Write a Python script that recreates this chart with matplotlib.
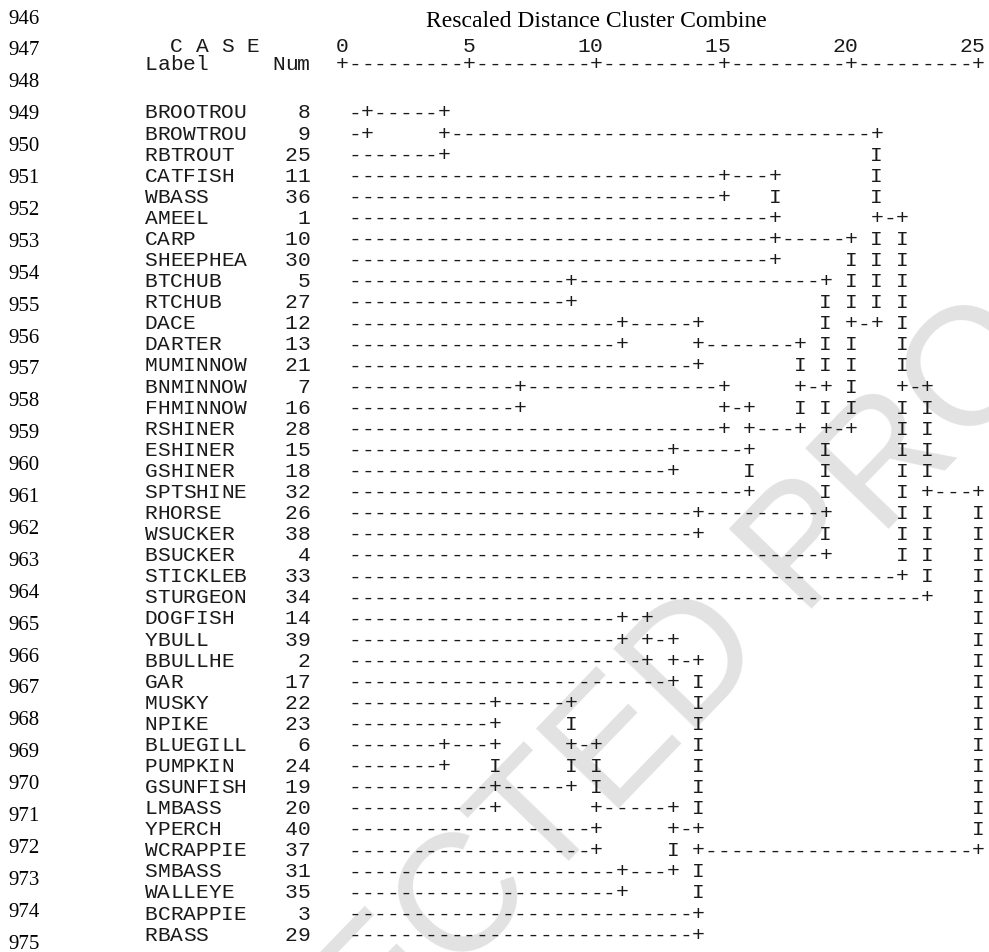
import matplotlib
matplotlib.use("Agg")
from matplotlib import pyplot as plt

# cases in dendrogram order
labels = ["BROOTROU", "BROWTROU", "RBTROUT", "CATFISH", "WBASS", "AMEEL", "CARP",
          "SHEEPHEA", "BTCHUB", "RTCHUB", "DACE", "DARTER", "MUMINNOW", "BNMINNOW",
          "FHMINNOW", "RSHINER", "ESHINER", "GSHINER", "SPTSHINE", "RHORSE", "WSUCKER",
          "BSUCKER", "STICKLEB", "STURGEON", "DOGFISH", "YBULL", "BBULLHE", "GAR",
          "MUSKY", "NPIKE", "BLUEGILL", "PUMPKIN", "GSUNFISH", "LMBASS", "YPERCH",
          "WCRAPPIE", "SMBASS", "WALLEYE", "BCRAPPIE", "RBASS"]
nums = [8, 9, 25, 11, 36, 1, 10, 30, 5, 27, 12, 13, 21, 7, 16, 28, 15, 18, 32, 26,
        38, 4, 33, 34, 14, 39, 2, 17, 22, 23, 6, 24, 19, 20, 40, 37, 31, 35, 3, 29]

# dendrogram in character columns (2 columns = 1 unit of rescaled distance)
leaf_end = [2, 2, 8, 30, 30, 34, 34, 34, 18, 18, 22, 22, 28, 14, 14, 30, 26, 26, 32, 28,
            28, 38, 44, 46, 22, 22, 24, 26, 12, 12, 8, 8, 12, 12, 20, 20, 22, 22, 28, 28]
joins = [[(2, 8)], [(8, 42)], [], [(30, 34)], [], [(42, 44)], [(34, 40)], [],
         [(18, 38)], [], [(22, 28), (40, 42)], [(28, 36)], [],
         [(14, 30), (36, 38), (44, 46)], [(30, 32)], [(32, 36), (38, 40)], [(26, 32)], [],
         [(46, 50)], [(28, 38)], [], [], [], [], [(22, 24)], [(24, 26)], [(26, 28)], [],
         [(12, 18)], [], [(8, 12), (18, 20)], [], [(12, 18)], [(20, 26)], [(26, 28)],
         [(28, 50)], [(22, 26)], [], [], []]
bars = [[], [], [42], [42], [34, 42], [], [42, 44], [40, 42, 44], [40, 42, 44],
        [38, 40, 42, 44], [38, 44], [38, 40, 44], [36, 38, 40, 44], [40],
        [36, 38, 40, 44, 46], [44, 46], [38, 44, 46], [32, 38, 44, 46], [38, 44],
        [44, 46, 50], [38, 44, 46, 50], [44, 46, 50], [46, 50], [50], [50], [50], [50],
        [28, 50], [28, 50], [18, 28, 50], [28, 50], [12, 18, 20, 28, 50], [20, 28, 50],
        [28, 50], [50], [26], [28], [28], [], []]

scale_values = [0, 5, 10, 15, 20, 25]
line_numbers = list(range(946, 976))

title = "Rescaled Distance Cluster Combine"
mono = "Liberation Mono"
serif = "Liberation Serif"
ink = "#1a1a1a"
fs = 15.3

fig = plt.figure(figsize=(9.89, 9.52), dpi=100)
ax = fig.add_axes([0, 0, 1, 1])
pitch, x0 = 12.73, 342.0
row_h, y0 = 21.08, 113.0
ax.set_xlim(-x0 / pitch, (989 - x0) / pitch)
ax.set_ylim((952 - y0) / row_h, -y0 / row_h)
ax.axis("off")


def row_of(py):
    return (py - y0) / row_h


def put(text, col, row, **kw):
    # one glyph per character column, like the original listing
    for i, ch in enumerate(text):
        if ch != " ":
            ax.text(col + i, row, ch, family=mono, fontsize=fs, color=ink,
                    ha="center", va="center", zorder=3, **kw)


# watermark, behind the listing (runs off the page like the original)
ax.text(595 / 989, 1 - 772 / 952, "CORRECTED PROOF", family="Liberation Sans",
        fontsize=120, color="#e2e2e2", rotation=46, rotation_mode="anchor",
        ha="center", va="center", zorder=0, transform=fig.transFigure)

# page line numbers
for j, n in enumerate(line_numbers):
    fig.text(8 / 989, 1 - (19 + j * 31.9) / 952, str(n), family=serif,
             fontsize=15, color="black", ha="left", va="center")

# header
ax.text(20, row_of(27), title, family=serif, fontsize=17, color="black",
        ha="center", va="baseline")
put("C A S E", -13, row_of(46))
for v in scale_values:
    s = str(v)
    put(s, 2 * v - len(s) + 1, row_of(46))
put("Label", -15, row_of(64))
put("Num", -5, row_of(64))
ruler = "".join("+" if c % 10 == 0 else "-" for c in range(51))
put(ruler, 0, row_of(64))

# case rows
for r, (lab, n) in enumerate(zip(labels, nums)):
    put(lab, -15, r)
    s = str(n)
    put(s, -3 - len(s) + 1, r)
    cells = {}
    for c in range(1, leaf_end[r]):
        cells[c] = "-"
    cells[leaf_end[r]] = "+"
    for a, b in joins[r]:
        for c in range(a + 1, b):
            cells[c] = "-"
        cells[a] = "+"
        cells[b] = "+"
    for c in bars[r]:
        cells[c] = "I"
    for c, ch in cells.items():
        put(ch, c, r)

fig.savefig("out.png", dpi=100)
